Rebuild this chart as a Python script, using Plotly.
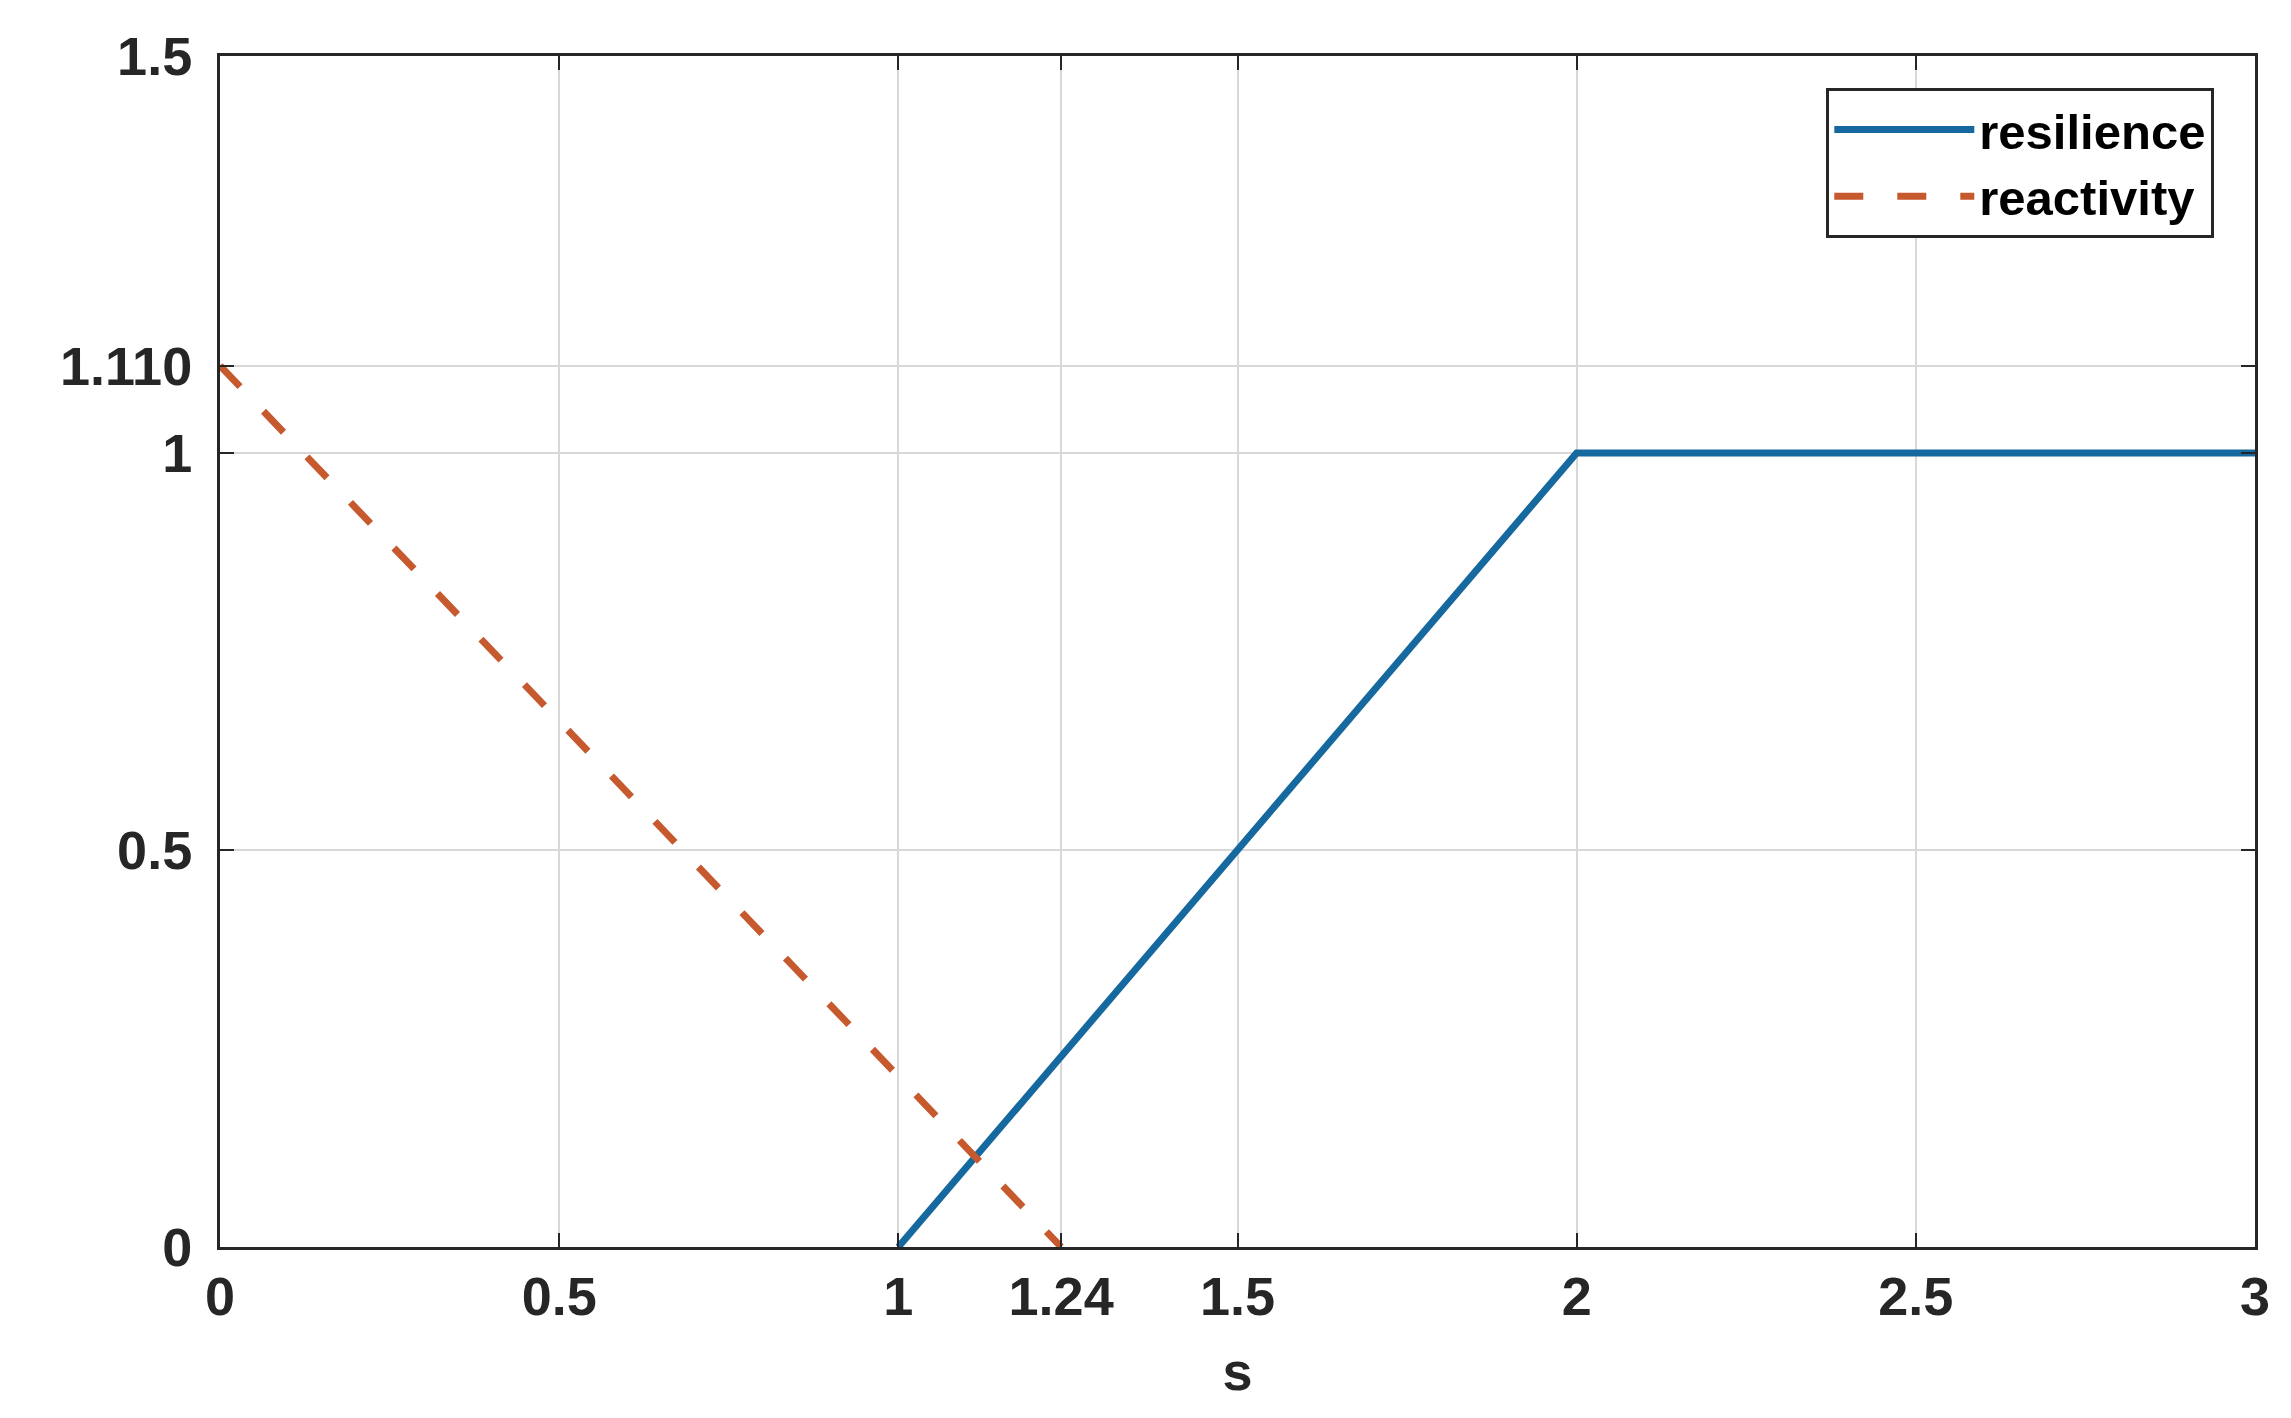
import plotly.graph_objects as go

# Data
res_s = [1, 2, 3]
res_val = [0, 1, 1]
react_s = [0, 1.24]
react_val = [1.110, 0]

x_ticks = [0, 0.5, 1, 1.24, 1.5, 2, 2.5, 3]
x_labels = ["0", "0.5", "1", "1.24", "1.5", "2", "2.5", "3"]
y_ticks = [0, 0.5, 1, 1.110, 1.5]
y_labels = ["0", "0.5", "1", "1.110", "1.5"]

font_family = "Liberation Sans, Arial, sans-serif"

fig = go.Figure()
fig.add_trace(go.Scatter(x=res_s, y=res_val, mode='lines', name='resilience',
                         line=dict(color='#16699F', width=7)))
fig.add_trace(go.Scatter(x=react_s, y=react_val, mode='lines', name='reactivity',
                         line=dict(color='#C65A2E', width=7, dash='29px,34px')))

axis_common = dict(showline=True, linecolor='#262626', linewidth=3, mirror='ticks',
                   ticks='inside', ticklen=14, tickwidth=2, tickcolor='#262626',
                   showgrid=True, gridcolor='#d8d8d8', gridwidth=1.5, zeroline=False,
                   tickfont=dict(family=font_family, size=54, color='#262626', weight='bold'))

fig.update_layout(
    width=2291, height=1418,
    margin=dict(l=212, r=44, t=48, b=179),
    plot_bgcolor='white', paper_bgcolor='white',
    font=dict(family=font_family, color='#262626'),
    xaxis=dict(range=[0, 3], tickvals=x_ticks, ticktext=x_labels,
               title=dict(text='s', font=dict(size=54, weight='bold'), standoff=28),
               **axis_common),
    yaxis=dict(range=[0, 1.5], tickvals=y_ticks, ticktext=y_labels,
               ticklabelstandoff=14, **axis_common),
    legend=dict(x=0.98, y=0.973, xanchor='right', yanchor='top',
                bgcolor='white', bordercolor='#262626', borderwidth=3,
                font=dict(family=font_family, size=49, color='black', weight='bold'),
                itemwidth=140, tracegroupgap=0),
    showlegend=True,
)

fig.write_html("out.html")
